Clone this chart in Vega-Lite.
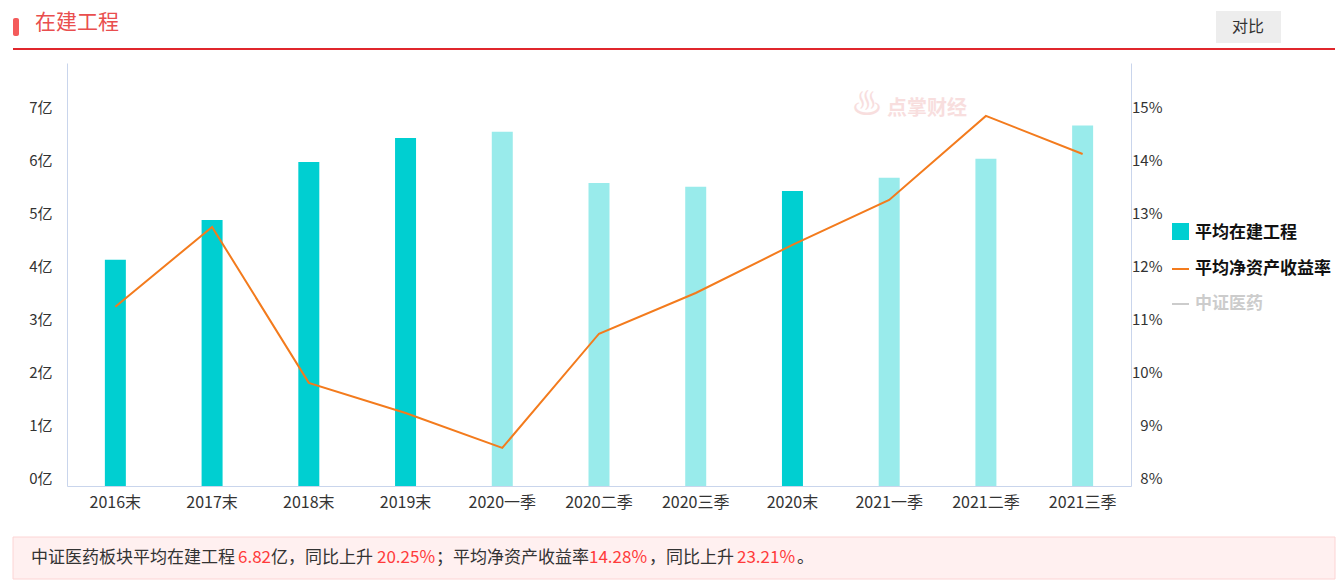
{
  "$schema": "https://vega.github.io/schema/vega-lite/v6.json",
  "autosize": "none",
  "width": 1064,
  "height": 423,
  "padding": {"left": 67, "top": 63, "right": 212, "bottom": 100},
  "background": "white",
  "config": {"font": "Noto Sans CJK SC", "view": {"stroke": null}},
  "data": {
    "values": [
      {"period": "2016末", "cip": 4.28, "roe": 11.39, "type": "年末"},
      {"period": "2017末", "cip": 5.03, "roe": 12.90, "type": "年末"},
      {"period": "2018末", "cip": 6.13, "roe": 9.95, "type": "年末"},
      {"period": "2019末", "cip": 6.58, "roe": 9.38, "type": "年末"},
      {"period": "2020一季", "cip": 6.70, "roe": 8.72, "type": "季度"},
      {"period": "2020二季", "cip": 5.73, "roe": 10.88, "type": "季度"},
      {"period": "2020三季", "cip": 5.66, "roe": 11.65, "type": "季度"},
      {"period": "2020末", "cip": 5.58, "roe": 12.56, "type": "年末"},
      {"period": "2021一季", "cip": 5.83, "roe": 13.41, "type": "季度"},
      {"period": "2021二季", "cip": 6.19, "roe": 15.00, "type": "季度"},
      {"period": "2021三季", "cip": 6.82, "roe": 14.28, "type": "季度"}
    ]
  },
  "layer": [
    {"data": {"values": [{}]}, "mark": {"type": "rect", "x": -54, "x2": -48, "y": -45, "y2": -27, "fill": "#f45b5b", "cornerRadius": 2}},
    {"data": {"values": [{}]}, "mark": {"type": "text", "x": -32, "y": -40, "text": "在建工程", "align": "left", "baseline": "middle", "fontSize": 21, "color": "#e94e4e"}},
    {"data": {"values": [{}]}, "mark": {"type": "rect", "x": -54, "x2": 1268, "y": -15, "y2": -13, "fill": "#e0262c"}},
    {"data": {"values": [{}]}, "mark": {"type": "rect", "x": 1149, "x2": 1214, "y": -52, "y2": -20, "fill": "#ededed"}},
    {"data": {"values": [{}]}, "mark": {"type": "text", "x": 1181, "y": -36, "text": "对比", "align": "center", "baseline": "middle", "fontSize": 16, "color": "#333333"}},
    {"data": {"values": [{}]}, "mark": {"type": "text", "x": 785, "y": 42, "text": "♨", "align": "left", "baseline": "middle", "fontSize": 30, "color": "#f8dede"}},
    {"data": {"values": [{}]}, "mark": {"type": "text", "x": 820, "y": 46, "text": "点掌财经", "align": "left", "baseline": "middle", "fontSize": 20, "fontWeight": "bold", "color": "#f8dede"}},
    {"data": {"values": [{}]}, "mark": {"type": "rect", "x": 1105, "x2": 1122, "y": 160, "y2": 177, "fill": "#00cfd1"}},
    {"data": {"values": [{}]}, "mark": {"type": "text", "x": 1128, "y": 170, "text": "平均在建工程", "align": "left", "baseline": "middle", "fontSize": 17, "fontWeight": "bold", "color": "#111111"}},
    {"data": {"values": [{}]}, "mark": {"type": "rect", "x": 1105, "x2": 1122, "y": 205, "y2": 207, "fill": "#f37b1d"}},
    {"data": {"values": [{}]}, "mark": {"type": "text", "x": 1128, "y": 206, "text": "平均净资产收益率", "align": "left", "baseline": "middle", "fontSize": 17, "fontWeight": "bold", "color": "#111111"}},
    {"data": {"values": [{}]}, "mark": {"type": "rect", "x": 1105, "x2": 1122, "y": 240, "y2": 242, "fill": "#cccccc"}},
    {"data": {"values": [{}]}, "mark": {"type": "text", "x": 1128, "y": 241, "text": "中证医药", "align": "left", "baseline": "middle", "fontSize": 17, "fontWeight": "bold", "color": "#cccccc"}},
    {"data": {"values": [{}]}, "mark": {"type": "rect", "x": -54, "x2": 1268, "y": 474, "y2": 516, "fill": "#fff0f0", "stroke": "#fcd4d4", "strokeWidth": 1}},
    {
      "data": {
        "values": [
          {"seg": "中证医药板块平均在建工程", "pos": -36, "hl": "n"},
          {"seg": "6.82", "pos": 171, "hl": "y"},
          {"seg": "亿，同比上升", "pos": 204, "hl": "n"},
          {"seg": "20.25%", "pos": 310, "hl": "y"},
          {"seg": "；", "pos": 369, "hl": "n"},
          {"seg": "平均净资产收益率", "pos": 386, "hl": "n"},
          {"seg": "14.28%", "pos": 522, "hl": "y"},
          {"seg": "，同比上升", "pos": 582, "hl": "n"},
          {"seg": "23.21%", "pos": 670, "hl": "y"},
          {"seg": "。", "pos": 730, "hl": "n"}
        ]
      },
      "mark": {"type": "text", "align": "left", "baseline": "middle", "fontSize": 17, "y": 495},
      "encoding": {
        "x": {"field": "pos", "type": "quantitative", "scale": null},
        "text": {"field": "seg"},
        "color": {"field": "hl", "type": "nominal", "scale": {"domain": ["n", "y"], "range": ["#333333", "#ff3b3b"]}, "legend": null}
      }
    },
    {
      "mark": {"type": "bar", "width": {"band": 0.217}},
      "encoding": {
        "x": {
          "field": "period", "type": "ordinal", "sort": null,
          "scale": {"paddingInner": 0, "paddingOuter": 0},
          "axis": {"title": null, "labelAngle": 0, "ticks": false, "tickSize": 0, "labelPadding": 8, "labelFontSize": 16, "labelColor": "#333333", "domainColor": "#c9d5ec", "grid": false}
        },
        "y": {
          "field": "cip", "type": "quantitative",
          "scale": {"domain": [0, 8], "nice": false},
          "axis": {"orient": "left", "title": null, "values": [0, 1, 2, 3, 4, 5, 6, 7], "labelExpr": "datum.value + '亿'", "ticks": false, "tickSize": 0, "grid": false, "labelPadding": 15, "labelAlign": "right", "labelBaseline": "bottom", "labelFontSize": 15, "labelColor": "#333333", "domainColor": "#c9d5ec"}
        },
        "fill": {"field": "type", "type": "nominal", "scale": {"domain": ["年末", "季度"], "range": ["#00cfd1", "#99ebeb"]}, "legend": null}
      }
    },
    {
      "mark": {"type": "line", "color": "#f37b1d", "strokeWidth": 2},
      "encoding": {
        "x": {"field": "period", "type": "ordinal", "sort": null},
        "y": {
          "field": "roe", "type": "quantitative",
          "scale": {"domain": [8, 16], "nice": false, "zero": false},
          "axis": {"orient": "right", "title": null, "values": [8, 9, 10, 11, 12, 13, 14, 15], "labelExpr": "datum.value + '%'", "ticks": false, "tickSize": 0, "grid": false, "labelPadding": 31, "labelAlign": "right", "labelBaseline": "bottom", "labelFontSize": 15, "labelColor": "#333333", "domainColor": "#c9d5ec"}
        }
      }
    }
  ],
  "resolve": {"scale": {"y": "independent", "color": "independent", "fill": "independent"}}
}
